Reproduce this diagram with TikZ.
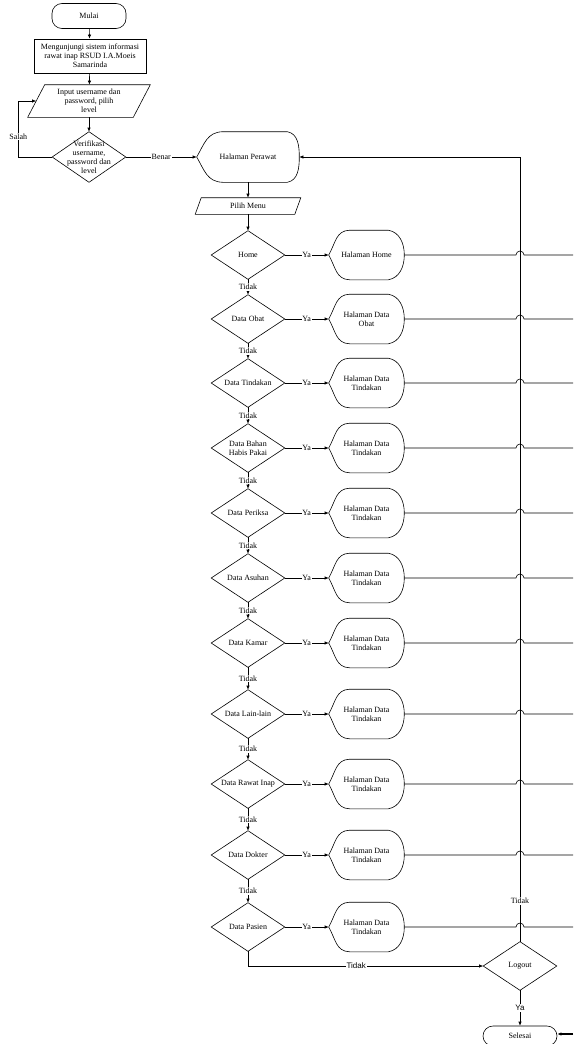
\documentclass[tikz,border=0pt]{standalone}
\usepackage{fontspec}
\setmainfont{Liberation Serif}
\newfontfamily\arialfont{Liberation Sans}
\usetikzlibrary{arrows.meta}

% bentuk-bentuk bagan alir, digambar dari anchor node
\newcommand{\belahketupat}[1]{\draw (#1.north) -- (#1.east) -- (#1.south) -- (#1.west) -- cycle;}
\newcommand{\jajargenjang}[2]{\draw ([xshift=#2]#1.north west) -- (#1.north east) -- ([xshift=-#2]#1.south east) -- (#1.south west) -- cycle;}
\newcommand{\layarbentuk}[3]{\draw ([xshift=#2]#1.north west) -- ([xshift=-#3]#1.north east) to[out=-10,in=90] (#1.east) to[out=-90,in=10] ([xshift=-#3]#1.south east) -- ([xshift=#2]#1.south west) to[out=178,in=-60,looseness=1.1] (#1.west) to[out=60,in=182,looseness=1.1] cycle;}

\tikzset{
  panah/.style={-{Latex[length=4pt,width=3.4pt]}},
  lbl/.style={fill=white, inner sep=0.8pt},
  terminal/.style={draw, rounded corners=10pt, minimum width=74pt, minimum height=25pt, inner sep=0pt},
  proses/.style={draw, minimum width=112pt, minimum height=34pt, inner sep=1pt, align=center},
  masukan/.style={minimum width=122pt, minimum height=32pt, inner sep=0pt, align=center},
  pilihan/.style={minimum width=73pt, minimum height=48pt, inner sep=0pt, align=center},
  layar/.style={minimum width=75pt, minimum height=49pt, inner sep=0pt, align=center}
}

\begin{document}
\begin{tikzpicture}[x=1pt, y=1pt, font=\fontsize{8}{9}\selectfont, line width=0.6pt]
\useasboundingbox (0,0) rectangle (573,-1044);

\node[terminal] (mulai) at (89,-16) {Mulai};
\node[proses] (kunjung) at (90,-56) {Mengunjungi sistem informasi\\rawat inap RSUD I.A.Moeis\\Samarinda};
\node[masukan] (input) at (89,-101) {Input username dan\\password, pilih\\level};
\jajargenjang{input}{17pt}
\node[pilihan, minimum height=50pt] (verif) at (89,-157) {Verifikasi\\username,\\password dan\\level};
\belahketupat{verif}

\node[layar, minimum width=102pt, minimum height=50pt] (perawat) at (248,-157) {Halaman Perawat};
\layarbentuk{perawat}{26pt}{12pt}
\node[masukan, minimum width=105pt, minimum height=16pt] (pilih) at (248,-206) {Pilih Menu};
\jajargenjang{pilih}{6pt}

\draw[panah] (mulai) -- (kunjung);
\draw[panah] (kunjung) -- (input);
\draw[panah] (input.south -| verif.north) -- (verif);
\draw[panah] (verif.west) -- ++(-34,0) |- node[lbl, pos=0.18] {Salah} ([xshift=8.5pt]input.west);
\draw[panah] (verif) -- node[lbl] {Benar} (perawat);
\draw[panah] (perawat) -- (pilih);

% menu-menu
\foreach \nm/\yy/\pil/\hal in {
  home/255/{Home}/{Halaman Home},
  obat/319/{Data Obat}/{Halaman Data\\Obat},
  tindakan/383/{Data Tindakan}/{Halaman Data\\Tindakan},
  bahan/448/{Data Bahan\\Habis Pakai}/{Halaman Data\\Tindakan},
  periksa/513/{Data Periksa}/{Halaman Data\\Tindakan},
  asuhan/578/{Data Asuhan}/{Halaman Data\\Tindakan},
  kamar/643/{Data Kamar}/{Halaman Data\\Tindakan},
  lain/714/{Data Lain-lain}/{Halaman Data\\Tindakan},
  rawat/784/{Data Rawat Inap}/{Halaman Data\\Tindakan},
  dokter/855/{Data Dokter}/{Halaman Data\\Tindakan},
  pasien/927/{Data Pasien}/{Halaman Data\\Tindakan}}{
  \node[pilihan] (\nm) at (248,-\yy) {\pil};
  \belahketupat{\nm}
  \node[layar] (hal\nm) at (366.5,-\yy) {\hal};
  \layarbentuk{hal\nm}{21pt}{16pt}
  \draw[panah] (\nm) -- node[lbl] {Ya} (hal\nm);
  \coordinate (ujung\nm) at (573,-\yy);
  \draw (hal\nm) -- (516,-\yy) arc[start angle=180, end angle=0, radius=4pt] -- (ujung\nm);
}

\draw[panah] (pilih) -- (home);
\foreach \a/\b in {home/obat, obat/tindakan, tindakan/bahan, bahan/periksa, periksa/asuhan,
  asuhan/kamar, kamar/lain, lain/rawat, rawat/dokter, dokter/pasien}
  \draw[panah] (\a.south) -- node[lbl] {Tidak} (\b.north);

% logout dan selesai
\node[pilihan] (logout) at (520,-966) {Logout};
\belahketupat{logout}
\node[terminal, minimum height=20pt] (selesai) at (520,-1036) {Selesai};
\coordinate (masuk) at (573,-1034);

\draw[panah] (pasien.south) |- node[lbl, pos=0.73, font=\arialfont\fontsize{8}{9}\selectfont] {Tidak} (logout.west);
\draw[panah] (logout.north) |- node[lbl, pos=0.026] {Tidak} (perawat.east);
\draw[panah] (logout) -- node[lbl, font=\arialfont\fontsize{8}{9}\selectfont] {Ya} (selesai);
\draw[panah, line width=1.3pt] (masuk) -- (selesai.east |- masuk);
\end{tikzpicture}
\end{document}
